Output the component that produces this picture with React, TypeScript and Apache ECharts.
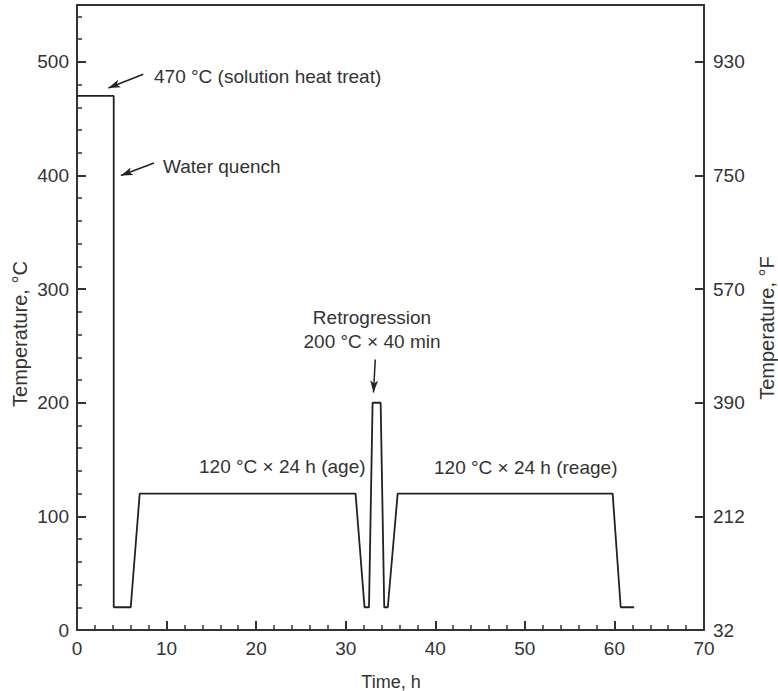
import React, { useEffect, useRef } from "react";
import * as echarts from "echarts";

// Thermal cycle (time in hours, temperature in °C)
const timeH = [0, 4.1, 4.1, 6.0, 7.0, 31.1, 32.1, 32.6, 33.0, 33.9, 34.3, 34.7, 35.8, 59.8, 60.7, 62.2];
const tempC = [470, 470, 20, 20, 120, 120, 20, 20, 200, 200, 20, 20, 120, 120, 20, 20];

// Right-axis (°F) tick labels at 0,100,...,500 °C
const fahrenheitLabels = ["32", "212", "390", "570", "750", "930"];

// Annotation arrows in data coordinates: [fromX, fromY] -> [toX, toY]
const arrowFrom = [[7.4, 489], [8.6, 411], [33.3, 238]];
const arrowTo = [[3.5, 477], [4.9, 400], [33.1, 209]];

const FONT = "'Liberation Sans', Arial, Helvetica, sans-serif";
const INK = "#333";

const annotations = [
  { text: "470 °C (solution heat treat)", x: 154, y: 76, align: "left" },
  { text: "Water quench", x: 163, y: 166, align: "left" },
  { text: "Retrogression", x: 372, y: 317, align: "center" },
  { text: "200 °C × 40 min", x: 372, y: 341, align: "center" },
  { text: "120 °C × 24 h (age)", x: 199, y: 466, align: "left" },
  { text: "120 °C × 24 h (reage)", x: 434, y: 467, align: "left" },
];

export default function App() {
  const ref = useRef<HTMLDivElement>(null);
  useEffect(() => {
    document.body.style.margin = "0";
    if (!ref.current) return;
    const chart = echarts.init(ref.current, undefined, { renderer: "svg" });
    const lineData = timeH.map((t, i) => [t, tempC[i]]);
    const arrowData = arrowFrom.map((f, i) => [
      { coord: f, symbol: "none" },
      { coord: arrowTo[i], symbol: "arrow", symbolSize: [6, 12] },
    ]);
    const axisLine = { show: true, onZero: false, lineStyle: { color: INK, width: 2 } };
    const labelStyle = { color: INK, fontSize: 19, fontFamily: FONT };
    chart.setOption({
      animation: false,
      backgroundColor: "#fff",
      grid: { left: 77, right: 74, top: 5, bottom: 61, containLabel: false },
      xAxis: [
        {
          type: "value",
          position: "bottom",
          min: 0,
          max: 70,
          interval: 10,
          axisLine,
          axisTick: { show: true, inside: true, length: 9, lineStyle: { color: INK, width: 2 } },
          minorTick: { show: true, splitNumber: 5, length: 5, lineStyle: { color: INK, width: 1.5 } },
          axisLabel: { ...labelStyle, margin: 9 },
          splitLine: { show: false },
        },
        {
          type: "value",
          position: "top",
          min: 0,
          max: 70,
          axisLine,
          axisTick: { show: false },
          axisLabel: { show: false },
          splitLine: { show: false },
        },
      ],
      yAxis: [
        {
          type: "value",
          position: "left",
          min: 0,
          max: 550,
          interval: 100,
          axisLine,
          axisTick: { show: true, inside: true, length: 9, lineStyle: { color: INK, width: 2 } },
          axisLabel: {
            ...labelStyle,
            margin: 8,
            formatter: (v: number) => (v % 100 === 0 ? String(v) : ""),
          },
          splitLine: { show: false },
        },
        {
          type: "value",
          position: "left",
          min: 0,
          max: 550,
          interval: 20,
          axisLine: { show: false, onZero: false },
          axisTick: { show: true, inside: true, length: 5, lineStyle: { color: INK, width: 1.5 } },
          axisLabel: { show: false },
          splitLine: { show: false },
        },
        {
          type: "value",
          position: "right",
          min: 0,
          max: 550,
          interval: 100,
          axisLine,
          axisTick: { show: true, inside: true, length: 9, lineStyle: { color: INK, width: 2 } },
          axisLabel: {
            ...labelStyle,
            margin: 9,
            formatter: (v: number) => {
              const i = Math.round(v / 100);
              return v % 100 === 0 && i < fahrenheitLabels.length ? fahrenheitLabels[i] : "";
            },
          },
          splitLine: { show: false },
        },
      ],
      series: [
        {
          type: "line",
          xAxisIndex: 0,
          yAxisIndex: 0,
          data: lineData,
          showSymbol: false,
          symbol: "none",
          lineStyle: { color: "#222", width: 1.8 },
          silent: true,
          markLine: {
            silent: true,
            animation: false,
            label: { show: false },
            lineStyle: { color: "#222", width: 1.5, type: "solid" },
            itemStyle: { color: "#222" },
            data: arrowData,
          },
        },
      ],
      graphic: [
        ...annotations.map((a) => ({
          type: "text",
          x: a.x,
          y: a.y,
          style: {
            text: a.text,
            fill: INK,
            font: `19px ${FONT}`,
            textAlign: a.align,
            textVerticalAlign: "middle",
          },
        })),
        {
          type: "text",
          x: 391,
          y: 682,
          style: { text: "Time, h", fill: INK, font: `18px ${FONT}`, textAlign: "center", textVerticalAlign: "middle" },
        },
        {
          type: "text",
          x: 20,
          y: 334,
          rotation: Math.PI / 2,
          style: { text: "Temperature, °C", fill: INK, font: `20px ${FONT}`, textAlign: "center", textVerticalAlign: "middle" },
        },
        {
          type: "text",
          x: 767,
          y: 328,
          rotation: Math.PI / 2,
          style: { text: "Temperature, °F", fill: INK, font: `20px ${FONT}`, textAlign: "center", textVerticalAlign: "middle" },
        },
      ],
    });
    return () => chart.dispose();
  }, []);
  return <div ref={ref} style={{ width: 778, height: 691 }} />;
}
